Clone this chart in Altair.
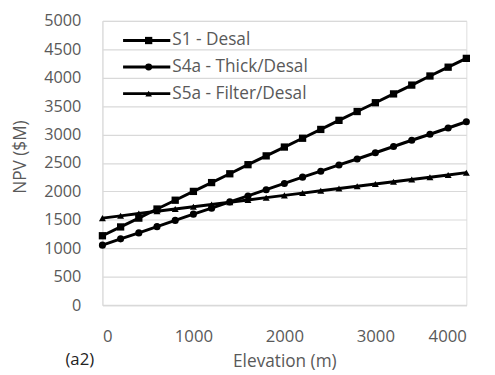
import altair as alt
import pandas as pd

elevation = [0, 200, 400, 600, 800, 1000, 1200, 1400, 1600, 1800, 2000,
             2200, 2400, 2600, 2800, 3000, 3200, 3400, 3600, 3800, 4000]
series_names = ["S1 - Desal", "S4a - Thick/Desal", "S5a - Filter/Desal"]
s1 = [1220, 1375, 1530, 1690, 1845, 2000, 2155, 2310, 2470, 2625, 2780,
      2935, 3090, 3250, 3405, 3560, 3715, 3870, 4030, 4185, 4340]
s4a = [1055, 1165, 1270, 1380, 1490, 1600, 1705, 1815, 1920, 2030, 2140,
       2250, 2355, 2465, 2570, 2680, 2790, 2900, 3005, 3115, 3225]
s5a = [1530, 1570, 1610, 1650, 1690, 1730, 1770, 1810, 1850, 1890, 1930,
       1970, 2010, 2050, 2090, 2130, 2170, 2210, 2250, 2290, 2330]
x_ticks = [0, 1000, 2000, 3000, 4000]
y_ticks = [0, 500, 1000, 1500, 2000, 2500, 3000, 3500, 4000, 4500, 5000]
shapes = ["square", "circle", "triangle-up"]
marker_sizes = [55, 50, 45]

rows = []
for name, vals in zip(series_names, [s1, s4a, s5a]):
    for e, v in zip(elevation, vals):
        rows.append({"Elevation": e, "NPV": v, "Series": name})
df = pd.DataFrame(rows)

FONT = "Open Sans"
GREY = "#595959"
W, H = 370, 289

x_axis = alt.Axis(values=x_ticks, format="d", title="Elevation (m)", grid=False,
                  ticks=False, labelPadding=24, labelFontSize=17,
                  labelColor=GREY, labelFont=FONT, labelOverlap=False,
                  domainColor="#d9d9d9", domainWidth=1.5,
                  titleFont=FONT, titleFontSize=17.5, titleColor=GREY,
                  titleFontWeight="normal", titleY=57, titleBaseline="middle")
y_axis = alt.Axis(values=y_ticks, tickCount=11, format="d", title="NPV ($M)", grid=True,
                  gridColor="#d9d9d9", gridWidth=1.2, ticks=False,
                  labelPadding=22, labelFontSize=16.5, labelColor=GREY,
                  labelFont=FONT, labelOverlap=False, labelSeparation=0,
                  domainColor="#d9d9d9",
                  titleFont=FONT, titleFontSize=17.5, titleColor=GREY,
                  titleFontWeight="normal", titleX=-83, titleY=138,
                  titleAngle=270, titleAlign="center", titleBaseline="middle")

x_enc = alt.X("Elevation:Q", scale=alt.Scale(domain=[0, 4000], nice=False), axis=x_axis)
y_enc = alt.Y("NPV:Q", scale=alt.Scale(domain=[0, 5000], nice=False), axis=y_axis)

base = alt.Chart(df)
lines = base.mark_line(color="black", strokeWidth=3).encode(
    x=x_enc, y=y_enc, detail="Series:N")
points = base.mark_point(filled=True, color="black", opacity=1).encode(
    x=x_enc, y=y_enc,
    shape=alt.Shape("Series:N", scale=alt.Scale(domain=series_names, range=shapes),
                    legend=None),
    size=alt.Size("Series:N", scale=alt.Scale(domain=series_names, range=marker_sizes),
                  legend=None))

one = pd.DataFrame({"k": [0]})
legend_layers = []
for i, name in enumerate(series_names):
    yy = 20 + 27 * i
    legend_layers.append(alt.Chart(one).mark_rule(color="black", strokeWidth=3).encode(
        x=alt.value(21), x2=alt.value(69), y=alt.value(yy)))
    legend_layers.append(alt.Chart(one).mark_point(filled=True, color="black", opacity=1,
                                                   shape=shapes[i], size=marker_sizes[i]).encode(
        x=alt.value(47), y=alt.value(yy)))
    legend_layers.append(alt.Chart(one).mark_text(align="left", baseline="middle", font=FONT,
                                                  fontSize=17.5, color=GREY).encode(
        x=alt.value(71), y=alt.value(yy), text=alt.value(name)))

label = alt.Chart(one).mark_text(align="center", baseline="middle", font=FONT,
                                 fontSize=17, color="#222222").encode(
    x=alt.value(-23), y=alt.value(345), text=alt.value("(a2)"))

chart = alt.layer(lines, points, *legend_layers, label).properties(
    width=W, height=H,
    autosize=alt.AutoSizeParams(type="none"),
    padding={"left": 96, "top": 10, "right": 21, "bottom": 68},
).configure_view(strokeWidth=0).configure(background="white")

chart.save("out.html", embed_options={"renderer": "svg", "actions": False})
